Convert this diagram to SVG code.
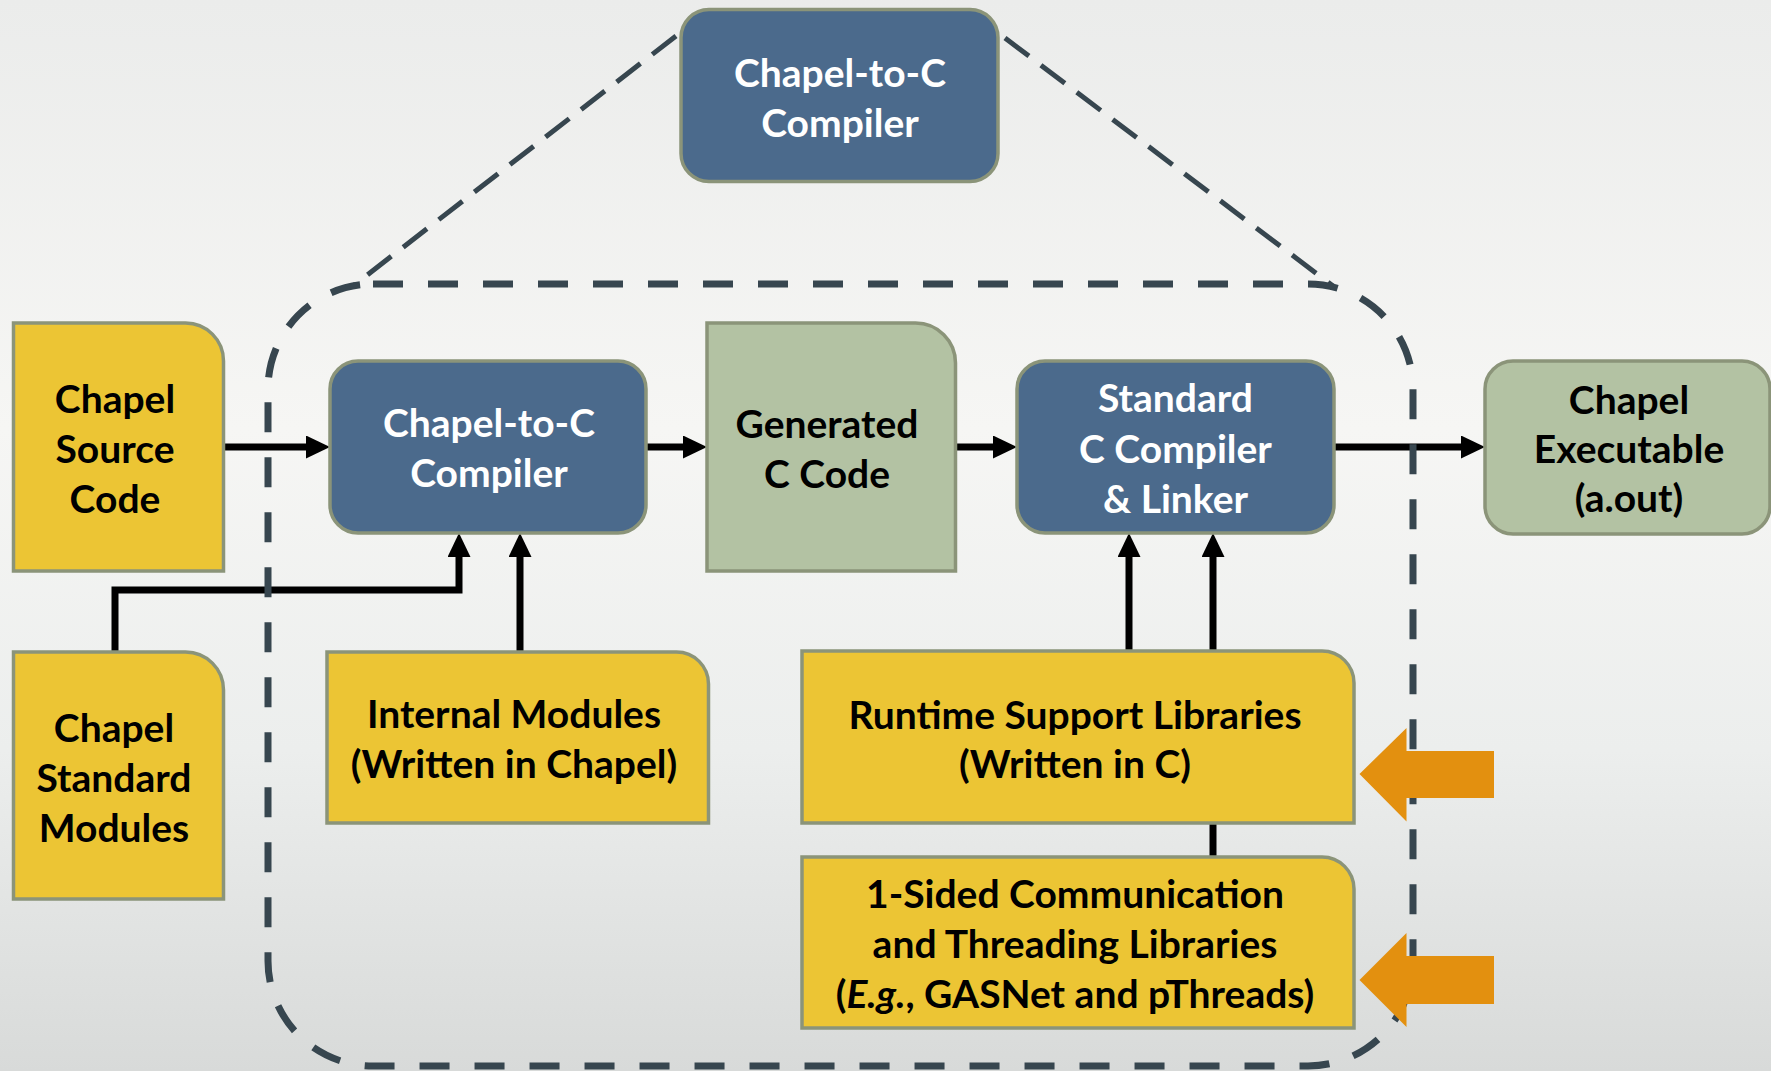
<svg xmlns="http://www.w3.org/2000/svg" width="1771" height="1071" viewBox="0 0 1771 1071">
<style>
text { font-family: Lato, "Open Sans", "Liberation Sans", sans-serif; font-weight: bold; font-size: 39px; text-anchor: middle; }
.dark { fill: #000000; }
.light { fill: #ffffff; }
.yellow { fill: #ecc534; stroke: #8b9479; stroke-width: 3.5; }
.green { fill: #b3c2a3; stroke: #8b9479; stroke-width: 3.5; }
.blue { fill: #4b6a8c; stroke: #8b9479; stroke-width: 3.5; }
.conn { fill: none; stroke: #000000; stroke-width: 7; }
.frame { fill: none; stroke: #37464f; stroke-width: 7; stroke-dasharray: 30 25; }
.diag { fill: none; stroke: #37464f; stroke-width: 5; stroke-dasharray: 30 15; }
.orange { fill: #e3900f; }
</style>
<defs>
<linearGradient id="bg" x1="0" y1="0" x2="0" y2="1">
<stop offset="0" stop-color="#ebeceb"/>
<stop offset="0.4" stop-color="#f6f6f4"/>
<stop offset="0.7" stop-color="#eceeed"/>
<stop offset="1" stop-color="#d8dad9"/>
</linearGradient>
<marker id="ah" markerUnits="userSpaceOnUse" markerWidth="24" markerHeight="23" refX="4" refY="11.5" orient="auto">
<path d="M0,0 L24,11.5 L0,23 Z" fill="#000000"/>
</marker>
</defs>
<rect x="0" y="0" width="1771" height="1071" fill="url(#bg)"/>

<g id="trapezoid">
<line class="diag" x1="676" y1="36" x2="353" y2="286"/>
<line class="diag" x1="1005" y1="38" x2="1333" y2="286"/>
</g>

<g id="connectors">
<path class="conn" d="M223.5,447 H310" marker-end="url(#ah)"/>
<path class="conn" d="M646,447 H687" marker-end="url(#ah)"/>
<path class="conn" d="M955.5,447 H997" marker-end="url(#ah)"/>
<path class="conn" d="M1334,447 H1465" marker-end="url(#ah)"/>
<path class="conn" d="M115,652 V590 H459 V553" marker-end="url(#ah)"/>
<path class="conn" d="M520,652 V553" marker-end="url(#ah)"/>
<path class="conn" d="M1129,651 V553" marker-end="url(#ah)"/>
<path class="conn" d="M1213,651 V553" marker-end="url(#ah)"/>
<path class="conn" d="M1213,857 V823"/>
</g>

<rect id="compiler-scope" class="frame" x="268" y="284" width="1145" height="782" rx="105" ry="105"/>

<g id="top-compiler">
<rect class="blue" x="681" y="9.5" width="317" height="172" rx="28" ry="28"/>
<text class="light" x="840" y="87">Chapel-to-C</text>
<text class="light" x="840" y="137">Compiler</text>
</g>

<g id="source-code">
<path class="yellow" d="M13.5,323 H185.5 A38,38 0 0 1 223.5,361 V571 H13.5 Z"/>
<text class="dark" x="115" y="413">Chapel</text>
<text class="dark" x="115" y="463">Source</text>
<text class="dark" x="115" y="513">Code</text>
</g>

<g id="chapel-to-c-compiler">
<rect class="blue" x="330" y="361" width="316" height="172" rx="28" ry="28"/>
<text class="light" x="489" y="437">Chapel-to-C</text>
<text class="light" x="489" y="487">Compiler</text>
</g>

<g id="generated-c-code">
<path class="green" d="M707,323 H915.5 A40,40 0 0 1 955.5,363 V571 H707 Z"/>
<text class="dark" x="827" y="438">Generated</text>
<text class="dark" x="827" y="488">C Code</text>
</g>

<g id="standard-c-compiler">
<rect class="blue" x="1017" y="361" width="317" height="172" rx="28" ry="28"/>
<text class="light" x="1175.5" y="412">Standard</text>
<text class="light" x="1175.5" y="463">C Compiler</text>
<text class="light" x="1175.5" y="513">&amp; Linker</text>
</g>

<g id="chapel-executable">
<rect class="green" x="1485" y="361" width="285" height="173" rx="28" ry="28"/>
<text class="dark" x="1629" y="414">Chapel</text>
<text class="dark" x="1629" y="463">Executable</text>
<text class="dark" x="1629" y="512">(a.out)</text>
</g>

<g id="standard-modules">
<path class="yellow" d="M13.5,652 H185.5 A38,38 0 0 1 223.5,690 V899 H13.5 Z"/>
<text class="dark" x="114" y="742">Chapel</text>
<text class="dark" x="114" y="792">Standard</text>
<text class="dark" x="114" y="842">Modules</text>
</g>

<g id="internal-modules">
<path class="yellow" d="M327,652 H676.5 A32,32 0 0 1 708.5,684 V823 H327 Z"/>
<text class="dark" x="514" y="728">Internal Modules</text>
<text class="dark" x="514" y="778">(Written in Chapel)</text>
</g>

<g id="runtime-libraries">
<path class="yellow" d="M802,651 H1322 A32,32 0 0 1 1354,683 V823 H802 Z"/>
<text class="dark" x="1075" y="729">Runtime Support Libraries</text>
<text class="dark" x="1075" y="778">(Written in C)</text>
</g>

<g id="comm-libraries">
<path class="yellow" d="M802,857 H1322 A32,32 0 0 1 1354,889 V1028 H802 Z"/>
<text class="dark" x="1075" y="908">1-Sided Communication</text>
<text class="dark" x="1075" y="958">and Threading Libraries</text>
<text class="dark" x="1075" y="1008">(<tspan font-style="italic">E.g.</tspan>, GASNet and pThreads)</text>
</g>

<g id="highlight-arrows">
<path class="orange" d="M1359.5,774 L1406.5,728 V751 H1494 V798 H1406.5 V821.5 Z"/>
<path class="orange" d="M1359.5,980 L1406.5,933 V956 H1494 V1004 H1406.5 V1027 Z"/>
</g>
</svg>
